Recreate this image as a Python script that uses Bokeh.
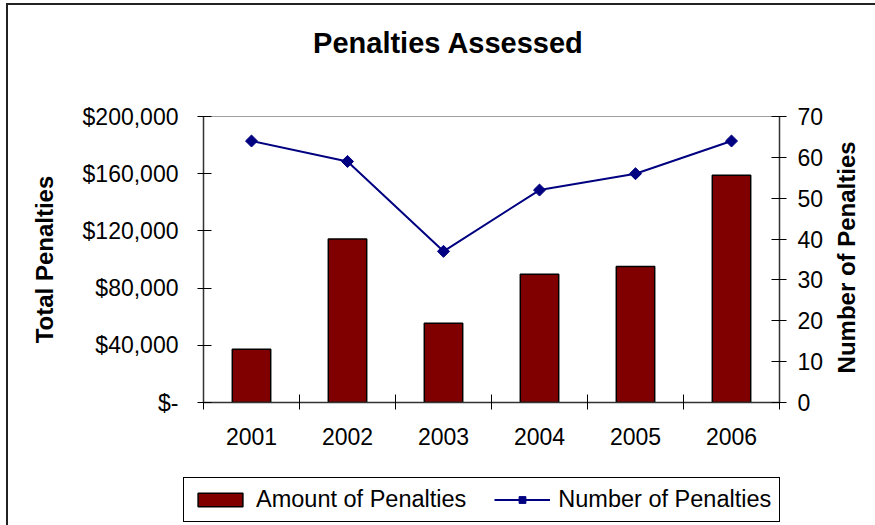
import numpy as np
from bokeh.plotting import figure
from bokeh.layouts import row, column
from bokeh.models import (Range1d, LinearAxis, FixedTicker, Legend, LegendItem,
                          ColumnDataSource, InlineStyleSheet)
from bokeh.core.properties import value
from bokeh.embed import file_html
from bokeh.resources import INLINE

# ---- data ----
years = ["2001", "2002", "2003", "2004", "2005", "2006"]
amounts = [37300, 114400, 55400, 89700, 95100, 159000]
counts = [64, 59, 37, 52, 56, 64]
left_ticks = [0, 40000, 80000, 120000, 160000, 200000]
left_tick_labels = ["$-", "$40,000", "$80,000", "$120,000", "$160,000", "$200,000"]
right_ticks = [0, 10, 20, 30, 40, 50, 60, 70]
title_text = "Penalties Assessed"
left_label = "Total Penalties"
right_label = "Number of Penalties"
series_names = ["Amount of Penalties", "Number of Penalties"]

FONT = "Liberation Sans"
BAR_COLOR = "#800000"
LINE_COLOR = "#000080"
W_ALL = 875
W_MAIN = 830
W_SIDE = W_ALL - W_MAIN
H_TITLE = 60
H_MAIN = 410
H_LEG = 55
FRAME_TOP, FRAME_BOTTOM = 116, 402   # page pixels


def strip(width, height, xr, yr):
    f = figure(width=width, height=height, output_backend="svg", toolbar_location=None,
               x_range=Range1d(*xr), y_range=Range1d(*yr),
               x_axis_type=None, y_axis_type=None,
               min_border_left=0, min_border_right=0, min_border_top=0, min_border_bottom=0,
               background_fill_color="white", border_fill_color="white")
    f.title = None
    f.grid.visible = False
    f.outline_line_color = None
    return f


n = len(years)
centers = [i + 0.5 for i in range(n)]
src = ColumnDataSource(dict(x=centers, year=years, amount=amounts, count=counts))

# ---- title strip ----
p0 = strip(W_ALL, H_TITLE, (0, W_ALL), (0, H_TITLE))
p0.text(x=[448], y=[H_TITLE - 42], text=[title_text], text_align="center",
        text_baseline="middle", text_font=value(FONT), text_font_size="29px",
        text_font_style="bold", text_color="black")

# ---- main chart ----
p = figure(width=W_MAIN, height=H_MAIN, output_backend="svg", toolbar_location=None,
           x_range=Range1d(0, n), y_range=Range1d(0, left_ticks[-1]),
           min_border_left=203, min_border_right=W_MAIN - 779,
           min_border_top=FRAME_TOP - H_TITLE,
           min_border_bottom=H_MAIN - (FRAME_BOTTOM - H_TITLE),
           background_fill_color="white", border_fill_color="white")
p.title = None
p.extra_y_ranges = {"right": Range1d(0, right_ticks[-1])}
p.xgrid.visible = False
p.ygrid.visible = False
p.outline_line_color = "#a0a0a0"
p.outline_line_width = 1

bars = p.vbar(x="x", top="amount", width=0.4, source=src, fill_color=BAR_COLOR,
              line_color="black", line_width=1.5)
ln = p.line(x="x", y="count", source=src, y_range_name="right",
            line_color=LINE_COLOR, line_width=2)
mk = p.scatter(x="x", y="count", source=src, y_range_name="right", marker="square",
               angle=np.pi / 4, size=8.5, fill_color=LINE_COLOR, line_color=LINE_COLOR)

# x axis
xa = p.xaxis[0]
xa.ticker = FixedTicker(ticks=centers, minor_ticks=list(range(n + 1)))
xa.major_label_overrides = {c: y for c, y in zip(centers, years)}
xa.major_tick_in = 0
xa.major_tick_out = 0
xa.major_tick_line_color = None
xa.minor_tick_in = 8
xa.minor_tick_out = 7
xa.minor_tick_line_color = "black"
xa.minor_tick_line_width = 1
xa.axis_line_color = "#333333"
xa.axis_line_width = 1.5
xa.major_label_text_font = FONT
xa.major_label_text_font_size = "23px"
xa.major_label_text_color = "black"
xa.major_label_standoff = 18

# left axis
ya = p.yaxis[0]
ya.ticker = FixedTicker(ticks=left_ticks)
ya.major_label_overrides = {t: l for t, l in zip(left_ticks, left_tick_labels)}
ya.major_tick_in = 8
ya.major_tick_out = 6
ya.major_tick_line_color = "black"
ya.minor_tick_line_color = None
ya.axis_line_color = "#333333"
ya.axis_line_width = 1.5
ya.major_label_text_font = FONT
ya.major_label_text_font_size = "23px"
ya.major_label_text_color = "black"
ya.major_label_standoff = 19
ya.axis_label = left_label
ya.axis_label_text_font = FONT
ya.axis_label_text_font_size = "24px"
ya.axis_label_text_font_style = "bold"
ya.axis_label_text_color = "black"
ya.axis_label_standoff = 22

# right axis
ra = LinearAxis(y_range_name="right", ticker=FixedTicker(ticks=right_ticks))
ra.major_tick_in = 8
ra.major_tick_out = 7
ra.major_tick_line_color = "black"
ra.minor_tick_line_color = None
ra.axis_line_color = "#333333"
ra.axis_line_width = 1.5
ra.major_label_text_font = FONT
ra.major_label_text_font_size = "23px"
ra.major_label_text_color = "black"
ra.major_label_standoff = 11
p.add_layout(ra, "right")

# ---- right-hand strip with the upward-reading right axis title ----
p2 = strip(W_SIDE, H_MAIN, (0, W_SIDE), (0, H_MAIN))
p2.text(x=[845.5 - W_MAIN], y=[H_MAIN - (262 - H_TITLE)], text=[right_label],
        angle=np.pi / 2, text_align="center", text_baseline="middle",
        text_font=value(FONT), text_font_size="24px", text_font_style="bold",
        text_color="black")

# ---- legend strip (proxy renderers are hidden; only their legend swatches show) ----
p3 = strip(W_ALL, H_LEG, (0, 1), (0, 1))
lb = p3.vbar(x="x", top="amount", width=0.4, source=src, fill_color=BAR_COLOR,
             line_color="black", line_width=1.5, visible=False)
ll = p3.line(x="x", y="count", source=src, line_color=LINE_COLOR, line_width=2,
             visible=False)
lm = p3.scatter(x="x", y="count", source=src, marker="square", angle=np.pi / 4, size=8.5,
                fill_color=LINE_COLOR, line_color=LINE_COLOR, visible=False)
legend = Legend(items=[LegendItem(label=series_names[0], renderers=[lb], index=0),
                       LegendItem(label=series_names[1], renderers=[ll, lm], index=0)],
                location=(183, 3), orientation="horizontal", margin=0,
                click_policy="none", inactive_fill_alpha=0,
                label_text_font=FONT, label_text_font_size="23.5px", label_text_color="black",
                glyph_width=56, glyph_height=17, label_standoff=8, spacing=28,
                padding=8, border_line_color="black", border_line_width=1,
                border_line_alpha=1,
                background_fill_color="white", background_fill_alpha=1)
p3.add_layout(legend)

layout = column(p0, row(p, p2, spacing=0), p3, spacing=0)
# outer chart frame of the reference, cropped at its right and bottom edges
layout.stylesheets = [InlineStyleSheet(css=(
    ":host::after { content: ''; position: absolute; left: 6px; top: 3px; "
    "right: 0; bottom: 0; border-top: 2px solid #222; border-left: 2px solid #222; "
    "pointer-events: none; z-index: 10; }"))]
open("out.html", "w").write(file_html(layout, INLINE))
